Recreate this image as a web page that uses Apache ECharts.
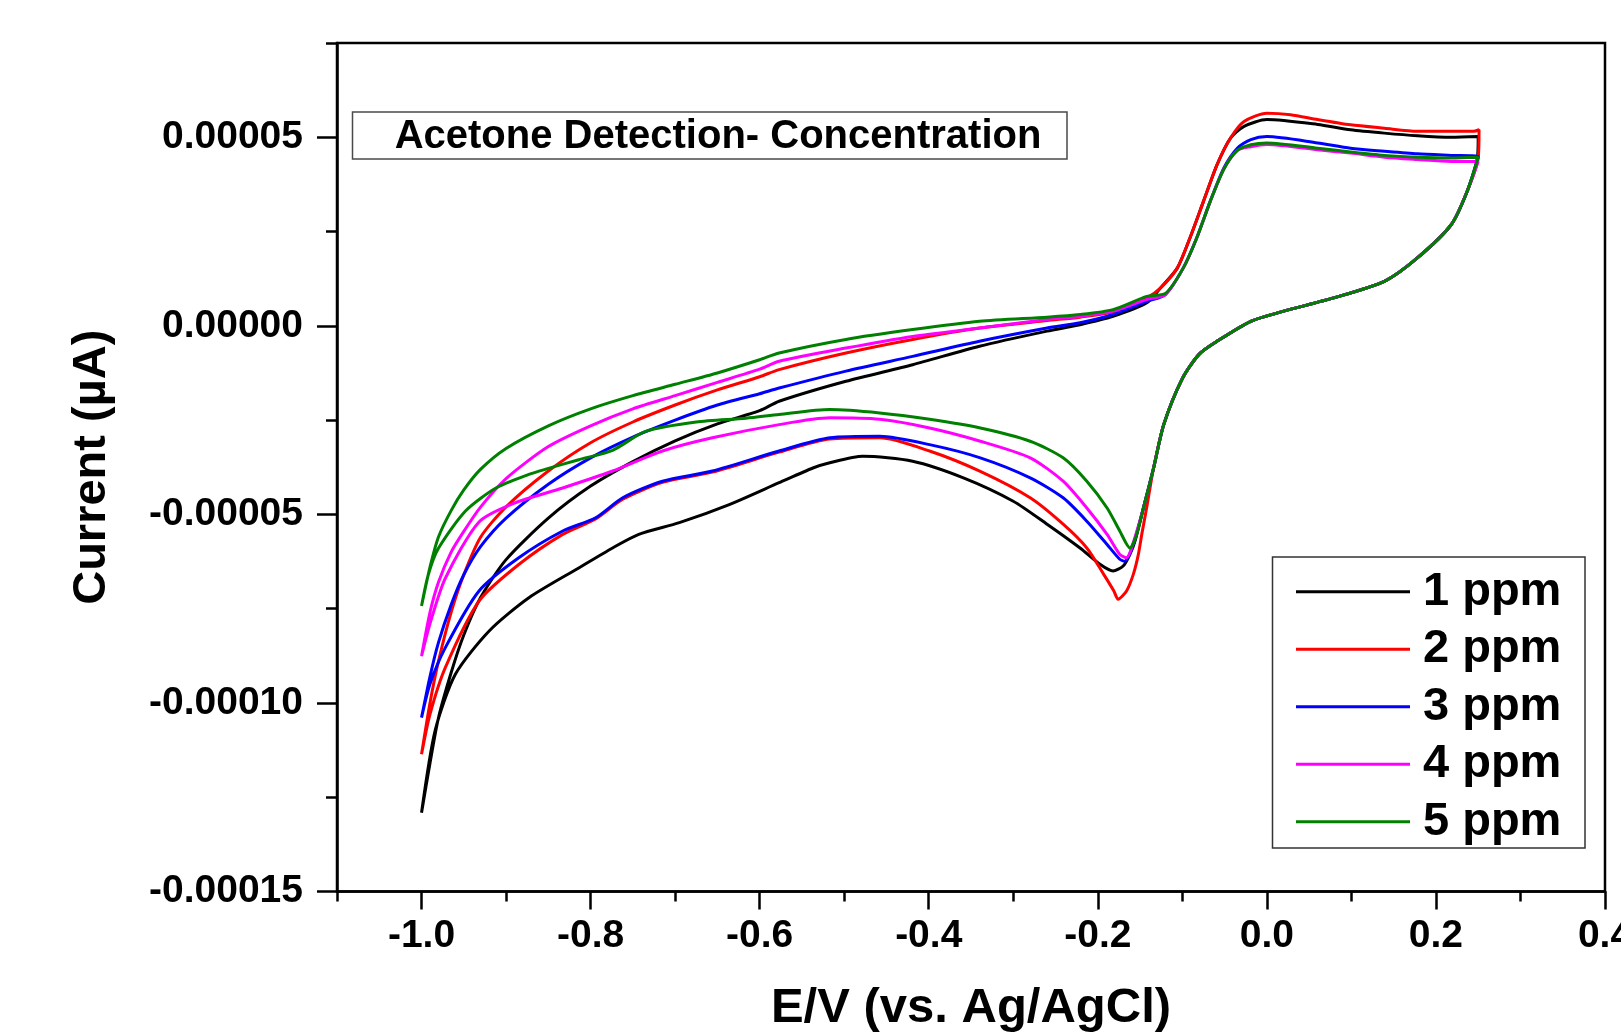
<!DOCTYPE html>
<html>
<head>
<meta charset="utf-8">
<title>Acetone Detection - Concentration</title>
<script src="https://cdn.jsdelivr.net/npm/echarts@6/dist/echarts.min.js"></script>
<style>
  html, body { margin: 0; padding: 0; background: #ffffff; }
  #chart { width: 1621px; height: 1033px; }
</style>
</head>
<body>
<div id="chart"></div>
<script>
// Cyclic voltammograms of acetone at five concentrations.
// Each loop: forward sweep -1.0 V -> 0.25 V, then reverse sweep back to -1.0 V.
// Points are [E (V vs Ag/AgCl), current].

const seriesNames = ['1 ppm', '2 ppm', '3 ppm', '4 ppm', '5 ppm'];
const seriesColors = ['#000000', '#ff0000', '#0000ff', '#ff00ff', '#008000'];

const xMajorTicks = [-1.0, -0.8, -0.6, -0.4, -0.2, 0.0, 0.2, 0.4];
const xMinorTicks = [-1.1, -0.9, -0.7, -0.5, -0.3, -0.1, 0.1, 0.3];
const yMajorTicks = [-0.00015, -0.0001, -0.00005, 0, 0.00005];
const yMinorTicks = [-0.000125, -0.000075, -0.000025, 0.000025, 0.000075];

const ppm1 = [
  [-1.000, -129.1e-6], [-0.990, -116e-6], [-0.980, -104e-6], [-0.965, -92e-6], [-0.950, -82e-6],
  [-0.930, -72e-6], [-0.900, -62e-6], [-0.850, -51e-6], [-0.800, -42.5e-6], [-0.750, -36e-6],
  [-0.700, -30.5e-6], [-0.650, -26e-6], [-0.600, -22.5e-6], [-0.577, -20.0e-6], [-0.498, -14.7e-6],
  [-0.419, -10.3e-6], [-0.340, -5.4e-6], [-0.260, -1.4e-6], [-0.221, 0.3e-6], [-0.182, 2.5e-6],
  [-0.142, 6.1e-6], [-0.126, 10.0e-6], [-0.106, 15.3e-6], [-0.091, 23.3e-6], [-0.075, 33.0e-6],
  [-0.059, 42.7e-6], [-0.043, 49.8e-6], [-0.027, 52.9e-6], [0.000, 54.7e-6], [0.060, 53.4e-6],
  [0.099, 52.0e-6], [0.139, 51.1e-6], [0.178, 50.4e-6], [0.218, 50.0e-6], [0.250, 50.2e-6],
  [0.249, 44.5e-6], [0.237, 35.7e-6], [0.218, 26.8e-6], [0.178, 18.0e-6], [0.139, 11.8e-6],
  [0.079, 7.4e-6], [0.020, 3.9e-6], [-0.019, 1.2e-6], [-0.059, -4.1e-6], [-0.080, -7.5e-6],
  [-0.100, -14e-6], [-0.122, -26.2e-6], [-0.134, -37.7e-6], [-0.146, -48.3e-6], [-0.156, -57.1e-6],
  [-0.162, -60.6e-6], [-0.170, -63.7e-6], [-0.182, -65.0e-6], [-0.197, -63.3e-6], [-0.221, -58.9e-6],
  [-0.260, -52.6e-6], [-0.300, -46.5e-6], [-0.359, -40.3e-6], [-0.419, -35.9e-6], [-0.478, -34.6e-6],
  [-0.517, -36.3e-6], [-0.537, -37.7e-6], [-0.577, -41.6e-6], [-0.636, -47.4e-6], [-0.695, -52.2e-6],
  [-0.743, -55.3e-6], [-0.774, -58.9e-6], [-0.814, -64.2e-6], [-0.873, -72.1e-6], [-0.920, -80.9e-6],
  [-0.960, -92.4e-6], [-0.984, -107.4e-6], [-1.000, -129.1e-6]
];

const ppm2 = [
  [-1.000, -113.6e-6], [-0.990, -100e-6], [-0.980, -89e-6], [-0.965, -76e-6], [-0.950, -66e-6],
  [-0.930, -56e-6], [-0.900, -48e-6], [-0.850, -38.5e-6], [-0.800, -31e-6], [-0.750, -25.5e-6],
  [-0.700, -21e-6], [-0.650, -17e-6], [-0.600, -13.5e-6], [-0.577, -11.6e-6], [-0.498, -7.2e-6],
  [-0.419, -3.6e-6], [-0.340, -0.6e-6], [-0.260, 1.4e-6], [-0.221, 2.3e-6], [-0.182, 3.7e-6],
  [-0.142, 7.4e-6], [-0.126, 10.0e-6], [-0.106, 15.3e-6], [-0.091, 23.3e-6], [-0.075, 33.0e-6],
  [-0.059, 42.7e-6], [-0.043, 49.8e-6], [-0.027, 54.2e-6], [0.000, 56.4e-6], [0.028, 56.0e-6],
  [0.060, 54.7e-6], [0.099, 53.3e-6], [0.139, 52.4e-6], [0.178, 51.6e-6], [0.218, 51.6e-6],
  [0.245, 51.6e-6], [0.251, 52.0e-6],
  [0.250, 44.5e-6], [0.237, 35.7e-6], [0.218, 26.8e-6], [0.178, 18.0e-6], [0.139, 11.8e-6],
  [0.079, 7.4e-6], [0.020, 3.9e-6], [-0.019, 1.2e-6], [-0.059, -4.1e-6], [-0.080, -7.5e-6],
  [-0.100, -14e-6], [-0.122, -26.2e-6], [-0.134, -37.7e-6], [-0.142, -48e-6], [-0.148, -55.3e-6],
  [-0.152, -60.6e-6], [-0.158, -65.9e-6], [-0.166, -70.3e-6], [-0.176, -72.5e-6], [-0.181, -70.3e-6],
  [-0.193, -65.9e-6], [-0.213, -58.9e-6], [-0.241, -52.6e-6], [-0.280, -45.6e-6], [-0.339, -38.6e-6],
  [-0.399, -33.2e-6], [-0.458, -29.7e-6], [-0.517, -30.0e-6], [-0.577, -33.5e-6], [-0.656, -38.8e-6],
  [-0.715, -41.5e-6], [-0.762, -46e-6], [-0.794, -51.2e-6], [-0.833, -55.3e-6], [-0.885, -63.3e-6],
  [-0.932, -73.0e-6], [-0.972, -90.7e-6], [-0.990, -103e-6], [-1.000, -113.6e-6]
];

const ppm3 = [
  [-1.000, -103.9e-6], [-0.990, -93e-6], [-0.980, -84e-6], [-0.965, -74e-6], [-0.950, -66e-6],
  [-0.930, -58.5e-6], [-0.900, -51e-6], [-0.850, -42e-6], [-0.800, -35e-6], [-0.750, -29.5e-6],
  [-0.700, -25e-6], [-0.650, -21e-6], [-0.600, -18e-6], [-0.577, -16.5e-6], [-0.498, -12.0e-6],
  [-0.419, -8.1e-6], [-0.340, -4.1e-6], [-0.260, -0.6e-6], [-0.221, 0.8e-6], [-0.182, 3.0e-6],
  [-0.142, 6.5e-6], [-0.120, 8.3e-6], [-0.099, 15.3e-6], [-0.083, 23.3e-6], [-0.067, 33.0e-6],
  [-0.051, 41.8e-6], [-0.035, 47.1e-6], [-0.019, 49.4e-6], [0.000, 50.2e-6], [0.060, 48.5e-6],
  [0.099, 47.1e-6], [0.139, 46.3e-6], [0.178, 45.6e-6], [0.218, 45.2e-6], [0.250, 44.9e-6],
  [0.237, 35.7e-6], [0.218, 26.8e-6], [0.178, 18.0e-6], [0.139, 11.8e-6],
  [0.079, 7.4e-6], [0.020, 3.9e-6], [-0.019, 1.2e-6], [-0.059, -4.1e-6], [-0.080, -7.5e-6],
  [-0.100, -14e-6], [-0.122, -26.2e-6], [-0.134, -37.7e-6], [-0.146, -48.3e-6], [-0.158, -58.0e-6],
  [-0.168, -62.4e-6], [-0.174, -61.9e-6], [-0.189, -58.0e-6], [-0.213, -51.8e-6], [-0.241, -45.6e-6],
  [-0.280, -40.3e-6], [-0.339, -35.0e-6], [-0.399, -31.5e-6], [-0.458, -29.3e-6], [-0.517, -29.7e-6],
  [-0.577, -33.2e-6], [-0.656, -38.5e-6], [-0.715, -41.2e-6], [-0.762, -45.6e-6], [-0.794, -50.9e-6],
  [-0.833, -54.4e-6], [-0.885, -61.5e-6], [-0.932, -70.3e-6], [-0.972, -85.4e-6], [-0.990, -95e-6],
  [-1.000, -103.9e-6]
];

const ppm4 = [
  [-1.000, -87.6e-6], [-0.990, -76e-6], [-0.980, -68e-6], [-0.965, -60e-6], [-0.950, -54.5e-6],
  [-0.930, -48e-6], [-0.900, -40.5e-6], [-0.850, -32e-6], [-0.800, -26.5e-6], [-0.750, -22e-6],
  [-0.700, -18.5e-6], [-0.650, -15e-6], [-0.600, -11.5e-6], [-0.577, -9.4e-6], [-0.498, -5.9e-6],
  [-0.419, -2.8e-6], [-0.340, -0.6e-6], [-0.260, 1.7e-6], [-0.221, 2.5e-6], [-0.182, 3.9e-6],
  [-0.142, 7.0e-6], [-0.120, 8.3e-6], [-0.099, 15.3e-6], [-0.083, 23.3e-6], [-0.067, 33.0e-6],
  [-0.051, 41.5e-6], [-0.035, 46.5e-6], [-0.019, 47.5e-6], [0.000, 48.1e-6], [0.060, 46.7e-6],
  [0.099, 45.8e-6], [0.139, 44.7e-6], [0.178, 44.1e-6], [0.218, 43.6e-6], [0.250, 43.6e-6],
  [0.237, 35.7e-6], [0.218, 26.8e-6], [0.178, 18.0e-6], [0.139, 11.8e-6],
  [0.079, 7.4e-6], [0.020, 3.9e-6], [-0.019, 1.2e-6], [-0.059, -4.1e-6], [-0.080, -7.5e-6],
  [-0.100, -14e-6], [-0.122, -26.2e-6], [-0.134, -37.7e-6], [-0.146, -48.3e-6], [-0.158, -57.5e-6],
  [-0.166, -61.5e-6], [-0.174, -60.6e-6], [-0.189, -55.3e-6], [-0.213, -48.3e-6], [-0.241, -41.2e-6],
  [-0.280, -35.0e-6], [-0.339, -30.6e-6], [-0.399, -27.1e-6], [-0.458, -24.8e-6], [-0.517, -24.4e-6],
  [-0.577, -26.2e-6], [-0.656, -29.7e-6], [-0.715, -33.2e-6], [-0.774, -38.5e-6], [-0.833, -43.0e-6],
  [-0.890, -47e-6], [-0.932, -52e-6], [-0.972, -67e-6], [-0.990, -79e-6], [-1.000, -87.6e-6]
];

const ppm5 = [
  [-1.000, -74.3e-6], [-0.990, -64e-6], [-0.980, -56e-6], [-0.965, -49e-6], [-0.950, -43.5e-6],
  [-0.930, -38e-6], [-0.900, -32.5e-6], [-0.850, -26.5e-6], [-0.800, -22e-6], [-0.750, -18.5e-6],
  [-0.700, -15.5e-6], [-0.650, -12.5e-6], [-0.600, -9e-6], [-0.577, -7.2e-6], [-0.498, -3.6e-6],
  [-0.419, -1.0e-6], [-0.340, 1.2e-6], [-0.260, 2.3e-6], [-0.221, 3.0e-6], [-0.182, 4.3e-6],
  [-0.142, 7.8e-6], [-0.120, 8.6e-6], [-0.099, 15.3e-6], [-0.083, 23.3e-6], [-0.067, 33.0e-6],
  [-0.051, 41.5e-6], [-0.035, 46.5e-6], [-0.019, 48e-6], [0.000, 48.5e-6], [0.060, 47.1e-6],
  [0.099, 46.1e-6], [0.139, 45.2e-6], [0.178, 44.7e-6], [0.218, 44.5e-6], [0.250, 44.7e-6],
  [0.237, 35.7e-6], [0.218, 26.8e-6], [0.178, 18.0e-6], [0.139, 11.8e-6],
  [0.079, 7.4e-6], [0.020, 3.9e-6], [-0.019, 1.2e-6], [-0.059, -4.1e-6], [-0.080, -7.5e-6],
  [-0.100, -14e-6], [-0.122, -26.2e-6], [-0.134, -37.7e-6], [-0.146, -48.3e-6], [-0.155, -56e-6],
  [-0.162, -58.9e-6], [-0.174, -54.4e-6], [-0.189, -48.3e-6], [-0.213, -41.2e-6], [-0.241, -35.0e-6],
  [-0.280, -30.6e-6], [-0.339, -27.1e-6], [-0.399, -24.8e-6], [-0.458, -23.1e-6], [-0.517, -22.2e-6],
  [-0.577, -23.5e-6], [-0.616, -24.5e-6], [-0.675, -25.5e-6], [-0.735, -28e-6], [-0.774, -33e-6],
  [-0.814, -35.5e-6], [-0.853, -38e-6], [-0.873, -39.4e-6], [-0.912, -43.0e-6], [-0.948, -49.1e-6],
  [-0.980, -59e-6], [-0.992, -66e-6], [-1.000, -74.3e-6]
];

const seriesData = [ppm1, ppm2, ppm3, ppm4, ppm5];

const FONT = '"Liberation Sans", Arial, Helvetica, sans-serif';
const black = '#000000';

const chart = echarts.init(document.getElementById('chart'), null, { renderer: 'canvas' });

const option = {
  backgroundColor: '#ffffff',
  animation: false,
  grid: {
    left: 337, top: 43, width: 1268, height: 848.5,
    containLabel: false, outerBoundsMode: 'none',
    show: true, borderColor: black, borderWidth: 2.5, backgroundColor: 'transparent'
  },
  xAxis: [
    {
      type: 'value', min: -1.1, max: 0.4, position: 'bottom',
      axisLine: { show: true, onZero: false, lineStyle: { color: black, width: 2.5 } },
      axisTick: { show: true, inside: false, length: 18, customValues: xMajorTicks,
                  lineStyle: { color: black, width: 2.5 } },
      axisLabel: { show: true, customValues: xMajorTicks, margin: 25,
                   formatter: v => v.toFixed(1),
                   color: black, fontFamily: FONT, fontWeight: 'bold', fontSize: 39 },
      splitLine: { show: false },
      name: 'E/V (vs. Ag/AgCl)', nameLocation: 'middle', nameGap: 92,
      nameTextStyle: { color: black, fontFamily: FONT, fontWeight: 'bold', fontSize: 49 }
    },
    {
      type: 'value', min: -1.1, max: 0.4, position: 'bottom',
      axisLine: { show: false, onZero: false },
      axisTick: { show: true, inside: false, length: 10, customValues: xMinorTicks,
                  lineStyle: { color: black, width: 2.5 } },
      axisLabel: { show: false },
      splitLine: { show: false }
    }
  ],
  yAxis: [
    {
      type: 'value', min: -0.00015, max: 0.000075, interval: 0.00005, position: 'left',
      axisLine: { show: true, onZero: false, lineStyle: { color: black, width: 2.5 } },
      axisTick: { show: true, inside: false, length: 20, customValues: yMajorTicks,
                  lineStyle: { color: black, width: 2.5 } },
      axisLabel: { show: true, customValues: yMajorTicks, margin: 34,
                   formatter: v => v.toFixed(5),
                   color: black, fontFamily: FONT, fontWeight: 'bold', fontSize: 39 },
      splitLine: { show: false },
      name: 'Current (\u00b5A)', nameLocation: 'middle', nameGap: 221, nameRotate: 90,
      nameTextStyle: { color: black, fontFamily: FONT, fontWeight: 'bold', fontSize: 47 }
    },
    {
      type: 'value', min: -0.00015, max: 0.000075, position: 'left',
      axisLine: { show: false, onZero: false },
      axisTick: { show: true, inside: false, length: 11, customValues: yMinorTicks,
                  lineStyle: { color: black, width: 2.5 } },
      axisLabel: { show: false },
      splitLine: { show: false }
    }
  ],
  legend: {
    orient: 'vertical', left: 1296, top: 563, padding: 0,
    icon: 'rect', itemWidth: 114, itemHeight: 3, itemGap: 0,
    selectedMode: false, z: 10,
    textStyle: { color: black, fontFamily: FONT, fontWeight: 'bold', fontSize: 47,
                 lineHeight: 57.5, padding: [0, 0, 0, 8] },
    data: seriesNames
  },
  graphic: {
    elements: [
      {
        type: 'rect', z: 3,
        shape: { x: 352.5, y: 112, width: 714.5, height: 47 },
        style: { fill: '#ffffff', stroke: '#4a4a4a', lineWidth: 1.5 }
      },
      {
        type: 'text', z: 4, x: 718, y: 137,
        style: { text: 'Acetone Detection- Concentration', fill: black,
                 font: 'bold 40px ' + FONT, align: 'center', verticalAlign: 'middle' }
      },
      {
        type: 'rect', z: 3,
        shape: { x: 1272.5, y: 557, width: 312.5, height: 291 },
        style: { fill: '#ffffff', stroke: '#333333', lineWidth: 1.5 }
      }
    ]
  },
  series: seriesNames.map((name, i) => ({
    name: name,
    type: 'line',
    xAxisIndex: 0,
    yAxisIndex: 0,
    data: seriesData[i],
    showSymbol: false,
    symbol: 'none',
    smooth: 0.25,
    clip: true,
    color: seriesColors[i],
    lineStyle: { color: seriesColors[i], width: 3 },
    z: 2
  }))
};

chart.setOption(option);
</script>
</body>
</html>
